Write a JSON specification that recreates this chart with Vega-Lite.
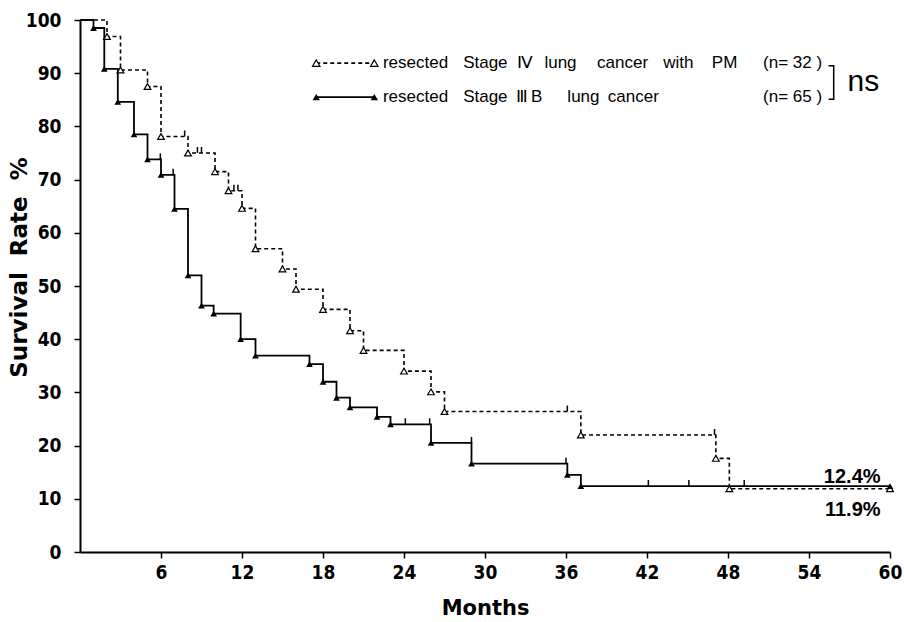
{
  "$schema": "https://vega.github.io/schema/vega-lite/v6.json",
  "width": 810,
  "height": 532,
  "autosize": {"type": "none"},
  "padding": {"left": 80, "top": 20, "right": 14, "bottom": 70},
  "background": "white",
  "config": {"view": {"stroke": null}},
  "datasets": {
    "curve": [
      {"group": "IV", "month": 0, "surv": 100},
      {"group": "IV", "month": 2, "surv": 96.9},
      {"group": "IV", "month": 3, "surv": 90.6},
      {"group": "IV", "month": 5, "surv": 87.5},
      {"group": "IV", "month": 6, "surv": 78.1},
      {"group": "IV", "month": 8, "surv": 75.0},
      {"group": "IV", "month": 10, "surv": 71.5},
      {"group": "IV", "month": 11, "surv": 67.9},
      {"group": "IV", "month": 12, "surv": 64.6},
      {"group": "IV", "month": 13, "surv": 57.0},
      {"group": "IV", "month": 15, "surv": 53.2},
      {"group": "IV", "month": 16, "surv": 49.4},
      {"group": "IV", "month": 18, "surv": 45.6},
      {"group": "IV", "month": 20, "surv": 41.6},
      {"group": "IV", "month": 21, "surv": 37.9},
      {"group": "IV", "month": 24, "surv": 34.0},
      {"group": "IV", "month": 26, "surv": 30.1},
      {"group": "IV", "month": 27, "surv": 26.4},
      {"group": "IV", "month": 37.1, "surv": 22.0},
      {"group": "IV", "month": 47.1, "surv": 17.6},
      {"group": "IV", "month": 48.1, "surv": 11.9},
      {"group": "IV", "month": 60, "surv": 11.9},
      {"group": "IIIB", "month": 0, "surv": 100},
      {"group": "IIIB", "month": 1, "surv": 98.5},
      {"group": "IIIB", "month": 1.8, "surv": 90.8},
      {"group": "IIIB", "month": 2.8, "surv": 84.6},
      {"group": "IIIB", "month": 4, "surv": 78.5},
      {"group": "IIIB", "month": 5, "surv": 73.8},
      {"group": "IIIB", "month": 6, "surv": 70.9},
      {"group": "IIIB", "month": 7, "surv": 64.5},
      {"group": "IIIB", "month": 8, "surv": 52.0},
      {"group": "IIIB", "month": 9, "surv": 46.3},
      {"group": "IIIB", "month": 9.9, "surv": 44.8},
      {"group": "IIIB", "month": 11.9, "surv": 40.0},
      {"group": "IIIB", "month": 13, "surv": 36.9},
      {"group": "IIIB", "month": 17, "surv": 35.3},
      {"group": "IIIB", "month": 18, "surv": 32.0},
      {"group": "IIIB", "month": 19, "surv": 29.0},
      {"group": "IIIB", "month": 20, "surv": 27.2},
      {"group": "IIIB", "month": 22, "surv": 25.4},
      {"group": "IIIB", "month": 23, "surv": 24.0},
      {"group": "IIIB", "month": 26, "surv": 20.5},
      {"group": "IIIB", "month": 29, "surv": 16.6},
      {"group": "IIIB", "month": 36.1, "surv": 14.5},
      {"group": "IIIB", "month": 37.1, "surv": 12.4},
      {"group": "IIIB", "month": 60, "surv": 12.4}
    ],
    "censor": [
      {"group": "IV", "month": 7.75, "surv": 78.1},
      {"group": "IV", "month": 8.7, "surv": 75.0},
      {"group": "IV", "month": 9.0, "surv": 75.0},
      {"group": "IV", "month": 11.4, "surv": 67.9},
      {"group": "IV", "month": 11.7, "surv": 67.9},
      {"group": "IV", "month": 36.1, "surv": 26.4},
      {"group": "IV", "month": 47.0, "surv": 22.0},
      {"group": "IIIB", "month": 5.95, "surv": 73.8},
      {"group": "IIIB", "month": 6.9, "surv": 70.9},
      {"group": "IIIB", "month": 24.1, "surv": 24.0},
      {"group": "IIIB", "month": 25.9, "surv": 24.0},
      {"group": "IIIB", "month": 29.0, "surv": 20.5},
      {"group": "IIIB", "month": 36.0, "surv": 16.6},
      {"group": "IIIB", "month": 42.1, "surv": 12.4},
      {"group": "IIIB", "month": 45.1, "surv": 12.4},
      {"group": "IIIB", "month": 49.2, "surv": 12.4}
    ],
    "legendSample": [
      {"group": "IV", "month": 17.5, "surv": 91.9},
      {"group": "IV", "month": 21.8, "surv": 91.9},
      {"group": "IIIB", "month": 17.5, "surv": 85.5},
      {"group": "IIIB", "month": 21.8, "surv": 85.5}
    ],
    "legendWords": [
      {"month": 22.44, "surv": 91.9, "label": "resected"},
      {"month": 28.38, "surv": 91.9, "label": "Stage"},
      {"month": 32.4, "surv": 91.9, "label": "Ⅳ"},
      {"month": 34.4, "surv": 91.9, "label": "lung"},
      {"month": 38.3, "surv": 91.9, "label": "cancer"},
      {"month": 43.2, "surv": 91.9, "label": "with"},
      {"month": 46.8, "surv": 91.9, "label": "PM"},
      {"month": 50.6, "surv": 91.9, "label": "(n= 32 )"},
      {"month": 22.44, "surv": 85.5, "label": "resected"},
      {"month": 28.38, "surv": 85.5, "label": "Stage"},
      {"month": 32.3, "surv": 85.5, "label": "Ⅲ"},
      {"month": 33.4, "surv": 85.5, "label": "B"},
      {"month": 36.1, "surv": 85.5, "label": "lung"},
      {"month": 39.1, "surv": 85.5, "label": "cancer"},
      {"month": 50.6, "surv": 85.5, "label": "(n= 65 )"}
    ],
    "bracket": [
      {"ord": 1, "month": 55.45, "surv": 91.4},
      {"ord": 2, "month": 55.83, "surv": 91.4},
      {"ord": 3, "month": 55.83, "surv": 85.1},
      {"ord": 4, "month": 55.45, "surv": 85.1}
    ],
    "ns": [
      {"month": 56.86, "surv": 88.4, "label": "ns"}
    ],
    "endLabels": [
      {"month": 59.3, "surv": 14.1, "label": "12.4%"},
      {"month": 59.3, "surv": 7.9, "label": "11.9%"}
    ]
  },
  "encoding": {
    "x": {
      "field": "month",
      "type": "quantitative",
      "scale": {"domain": [0, 60], "nice": false, "zero": false},
      "axis": {
        "title": "Months",
        "values": [6, 12, 18, 24, 30, 36, 42, 48, 54, 60],
        "grid": false,
        "domainColor": "black",
        "domainWidth": 2,
        "tickColor": "black",
        "tickWidth": 1.5,
        "tickSize": 6,
        "labelFont": "Liberation Sans Narrow, DejaVu Sans Condensed, Liberation Sans",
        "labelFontWeight": "bold",
        "labelFontSize": 19,
        "labelColor": "black",
        "labelPadding": 5,
        "labelFlush": false,
        "labelOverlap": false,
        "titleFont": "DejaVu Sans",
        "titleFontSize": 21,
        "titleFontWeight": "bold",
        "titleColor": "black",
        "titleY": 56,
        "titleBaseline": "middle"
      }
    },
    "y": {
      "field": "surv",
      "type": "quantitative",
      "scale": {"domain": [0, 100], "nice": false},
      "axis": {
        "title": "Survival\u00a0\u00a0Rate\u00a0\u00a0%",
        "values": [0, 10, 20, 30, 40, 50, 60, 70, 80, 90, 100],
        "grid": false,
        "domainColor": "black",
        "domainWidth": 2,
        "tickColor": "black",
        "tickWidth": 1.5,
        "tickSize": 6,
        "labelFont": "Liberation Sans Narrow, DejaVu Sans Condensed, Liberation Sans",
        "labelFontWeight": "bold",
        "labelFontSize": 19,
        "labelColor": "black",
        "labelPadding": 13,
        "labelFlush": false,
        "labelOverlap": false,
        "titleFont": "DejaVu Sans",
        "titleFontSize": 23,
        "titleFontWeight": "bold",
        "titleColor": "black",
        "titleX": -61,
        "titleY": 247,
        "titleAngle": -90,
        "titleAlign": "center",
        "titleBaseline": "middle"
      }
    }
  },
  "layer": [
    {
      "data": {"name": "curve"},
      "transform": [{"filter": "datum.group === 'IV'"}],
      "mark": {"type": "line", "interpolate": "step-after", "color": "black", "strokeWidth": 1.6, "strokeDash": [4, 3]}
    },
    {
      "data": {"name": "curve"},
      "transform": [{"filter": "datum.group === 'IIIB'"}],
      "mark": {"type": "line", "interpolate": "step-after", "color": "black", "strokeWidth": 1.8}
    },
    {
      "data": {"name": "censor"},
      "mark": {"type": "point", "shape": "M0,0L0,-1", "size": 144, "filled": false, "stroke": "black", "strokeWidth": 1.5, "opacity": 1}
    },
    {
      "data": {"name": "curve"},
      "transform": [{"filter": "datum.group === 'IV' && datum.month > 0"}],
      "mark": {"type": "point", "shape": "triangle-up", "size": 45, "filled": true, "fill": "white", "stroke": "black", "strokeWidth": 1.2, "opacity": 1}
    },
    {
      "data": {"name": "curve"},
      "transform": [{"filter": "datum.group === 'IIIB' && datum.month > 0"}],
      "mark": {"type": "point", "shape": "triangle-up", "size": 45, "filled": true, "fill": "black", "opacity": 1}
    },
    {
      "data": {"name": "legendSample"},
      "transform": [{"filter": "datum.group === 'IV'"}],
      "mark": {"type": "line", "color": "black", "strokeWidth": 1.6, "strokeDash": [4, 3]}
    },
    {
      "data": {"name": "legendSample"},
      "transform": [{"filter": "datum.group === 'IIIB'"}],
      "mark": {"type": "line", "color": "black", "strokeWidth": 1.8}
    },
    {
      "data": {"name": "legendSample"},
      "transform": [{"filter": "datum.group === 'IV'"}],
      "mark": {"type": "point", "shape": "triangle-up", "size": 55, "filled": true, "fill": "white", "stroke": "black", "strokeWidth": 1.2, "opacity": 1}
    },
    {
      "data": {"name": "legendSample"},
      "transform": [{"filter": "datum.group === 'IIIB'"}],
      "mark": {"type": "point", "shape": "triangle-up", "size": 55, "filled": true, "fill": "black", "opacity": 1}
    },
    {
      "data": {"name": "legendWords"},
      "mark": {"type": "text", "align": "left", "baseline": "middle", "font": "Liberation Sans", "fontSize": 17, "color": "black"},
      "encoding": {"text": {"field": "label"}}
    },
    {
      "data": {"name": "bracket"},
      "mark": {"type": "line", "color": "black", "strokeWidth": 1.5},
      "encoding": {"order": {"field": "ord", "type": "quantitative"}}
    },
    {
      "data": {"name": "ns"},
      "mark": {"type": "text", "align": "left", "baseline": "middle", "font": "Liberation Sans", "fontSize": 30, "color": "black"},
      "encoding": {"text": {"field": "label"}}
    },
    {
      "data": {"name": "endLabels"},
      "mark": {"type": "text", "align": "right", "baseline": "middle", "font": "Liberation Sans", "fontSize": 20, "fontWeight": "bold", "color": "black"},
      "encoding": {"text": {"field": "label"}}
    }
  ]
}
